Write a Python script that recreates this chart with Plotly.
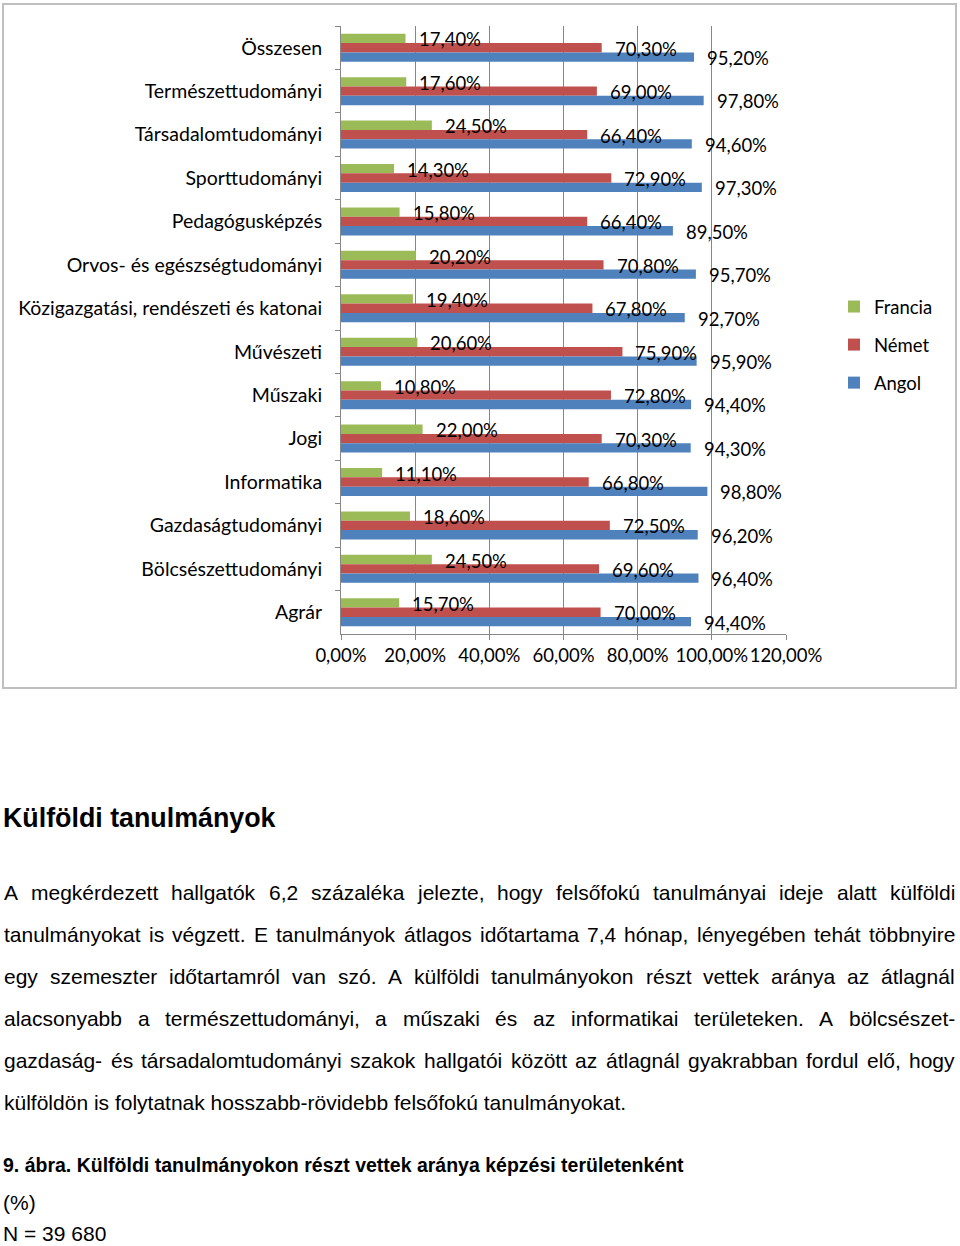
import plotly.graph_objects as go

# ---------------- data ----------------
categories = [
    "Összesen", "Természettudományi", "Társadalomtudományi", "Sporttudományi",
    "Pedagógusképzés", "Orvos- és egészségtudományi",
    "Közigazgatási, rendészeti és katonai", "Művészeti", "Műszaki", "Jogi",
    "Informatika", "Gazdaságtudományi", "Bölcsészettudományi", "Agrár",
]
francia = [17.4, 17.6, 24.5, 14.3, 15.8, 20.2, 19.4, 20.6, 10.8, 22.0, 11.1, 18.6, 24.5, 15.7]
nemet = [70.3, 69.0, 66.4, 72.9, 66.4, 70.8, 67.8, 75.9, 72.8, 70.3, 66.8, 72.5, 69.6, 70.0]
angol = [95.2, 97.8, 94.6, 97.3, 89.5, 95.7, 92.7, 95.9, 94.4, 94.3, 98.8, 96.2, 96.4, 94.4]
series_names = ["Francia", "Német", "Angol"]
x_tick_values = [0, 20, 40, 60, 80, 100, 120]
x_tick_labels = ["0,00%", "20,00%", "40,00%", "60,00%", "80,00%", "100,00%", "120,00%"]

heading = "Külföldi tanulmányok"
paragraph_lines = [
    "A megkérdezett hallgatók 6,2 százaléka jelezte, hogy felsőfokú tanulmányai ideje alatt külföldi",
    "tanulmányokat is végzett. E tanulmányok átlagos időtartama 7,4 hónap, lényegében tehát többnyire",
    "egy szemeszter időtartamról van szó. A külföldi tanulmányokon részt vettek aránya az átlagnál",
    "alacsonyabb a természettudományi, a műszaki és az informatikai területeken. A bölcsészet-",
    "gazdaság- és társadalomtudományi szakok hallgatói között az átlagnál gyakrabban fordul elő, hogy",
    "külföldön is folytatnak hosszabb-rövidebb felsőfokú tanulmányokat.",
]
caption = "9. ábra. Külföldi tanulmányokon részt vettek aránya képzési területenként"
unit_note = "(%)"
n_note = "N = 39 680"

# ---------------- style / layout ----------------
colors = ["#9BBB59", "#C0504D", "#4F81BD"]
W, H = 960, 1246
L, R, T, B = 341, 786, 26, 634
CHART_FONT = "Lato, Open Sans, sans-serif"
CF_SIZE = 18.5
TXT_FONT = "Liberation Sans, Arial, sans-serif"
P_SIZE = 21
BARGAP = 0.356


def pxx(x):  # pixel -> paper
    return (x - L) / (R - L)


def pxy(y):
    return (B - y) / (B - T)


def fmt(v):
    return f"{v:.2f}".replace(".", ",") + "%"


fig = go.Figure()
for name, vals, col in zip(series_names, [francia, nemet, angol], colors):
    fig.add_trace(go.Bar(
        name=name, y=categories, x=vals, orientation="h",
        marker=dict(color=col, line=dict(width=0)),
        legendgroup=name, hoverinfo="skip",
    ))

# value labels drawn on top of all bars
n_series = len(series_names)
bar_w = (1 - BARGAP) / n_series
for k, vals in enumerate([francia, nemet, angol]):
    off = (k - (n_series - 1) / 2) * bar_w
    for i, v in enumerate(vals):
        fig.add_annotation(
            x=v, y=i + off, xref="x", yref="y", text=fmt(v),
            xanchor="left", yanchor="middle", xshift=13, yshift=-1, showarrow=False,
            font=dict(family=CHART_FONT, size=CF_SIZE, color="#000000"),
            borderpad=0, borderwidth=0,
        )

axis_col = "#868686"
fig.update_layout(
    width=W, height=H,
    margin=dict(l=L, r=W - R, t=T, b=H - B, autoexpand=False),
    paper_bgcolor="white", plot_bgcolor="white",
    barmode="group", bargap=BARGAP, bargroupgap=0,
    showlegend=True,
    legend=dict(
        x=pxx(834), y=pxy(288), xanchor="left", yanchor="top",
        font=dict(family=CHART_FONT, size=CF_SIZE, color="#000000"),
        tracegroupgap=11, bgcolor="rgba(0,0,0,0)",
    ),
    xaxis=dict(
        range=[0, 120], tickvals=x_tick_values, ticktext=x_tick_labels,
        tickangle=0,
        showgrid=True, gridcolor=axis_col, gridwidth=1,
        showline=True, linecolor=axis_col, linewidth=1,
        ticks="outside", ticklen=5, tickcolor=axis_col,
        tickfont=dict(family=CHART_FONT, size=CF_SIZE, color="#000000"),
        zeroline=False, fixedrange=True,
    ),
    yaxis=dict(
        type="category", autorange="reversed",
        showline=True, linecolor=axis_col, linewidth=1,
        ticks="outside", ticklen=5, tickcolor=axis_col, tickson="boundaries",
        ticklabelstandoff=14,
        tickfont=dict(family=CHART_FONT, size=19.5, color="#000000"),
        showgrid=False, fixedrange=True,
    ),
)

# outer chart border
fig.add_shape(type="rect", xref="paper", yref="paper",
              x0=pxx(3), x1=pxx(956), y0=pxy(688), y1=pxy(4),
              line=dict(color="#BFBFBF", width=2), layer="below")

# ---------------- text below chart ----------------
AW = {
    " ": 278, ",": 278, ".": 278, "-": 333, "%": 889, "(": 333, ")": 333, "=": 584,
    "a": 556, "b": 556, "c": 500, "d": 556, "e": 556, "f": 278, "g": 556, "h": 556,
    "i": 222, "j": 222, "k": 500, "l": 222, "m": 833, "n": 556, "o": 556, "p": 556,
    "q": 556, "r": 333, "s": 500, "t": 278, "u": 556, "v": 500, "w": 722, "x": 500,
    "y": 500, "z": 500, "á": 556, "é": 556, "í": 278, "ó": 556, "ö": 556, "ő": 556,
    "ú": 556, "ü": 556, "ű": 556, "A": 667, "E": 667, "N": 722, "K": 667,
}
for d in "0123456789":
    AW[d] = 556


def text_w(s, size):
    return sum(AW.get(c, 556) for c in s) * size / 1000.0


def add_text(txt, x, y, size, family=TXT_FONT, anchor="left"):
    fig.add_annotation(
        text=txt, xref="paper", yref="paper", x=pxx(x), y=pxy(y),
        xanchor=anchor, yanchor="middle", showarrow=False,
        font=dict(family=family, size=size, color="#000000"),
        borderpad=0, borderwidth=0,
    )


add_text("<b>" + heading + "</b>", 3, 818, 26.8)

LEFT, RIGHT = 4, 955
line_y = [892, 934, 976, 1018, 1060, 1102]
for i, (ln, yy) in enumerate(zip(paragraph_lines, line_y)):
    if i == len(paragraph_lines) - 1:
        add_text(ln, LEFT, yy, P_SIZE)
        continue
    words = ln.split(" ")
    widths = [text_w(w, P_SIZE) for w in words]
    gap = (RIGHT - LEFT - sum(widths)) / (len(words) - 1)
    xpos = LEFT
    for w, ww in zip(words, widths):
        add_text(w, xpos, yy, P_SIZE)
        xpos += ww + gap

add_text("<b>" + caption + "</b>", 3, 1165, 19.5)
add_text(unit_note, 3, 1202, P_SIZE)
add_text(n_note, 3, 1233.5, P_SIZE)

# remove the default page margin so the figure starts at the window's corner
fig.write_html("out.html", config={"displayModeBar": False},
               post_script="document.body.style.margin='0';")
